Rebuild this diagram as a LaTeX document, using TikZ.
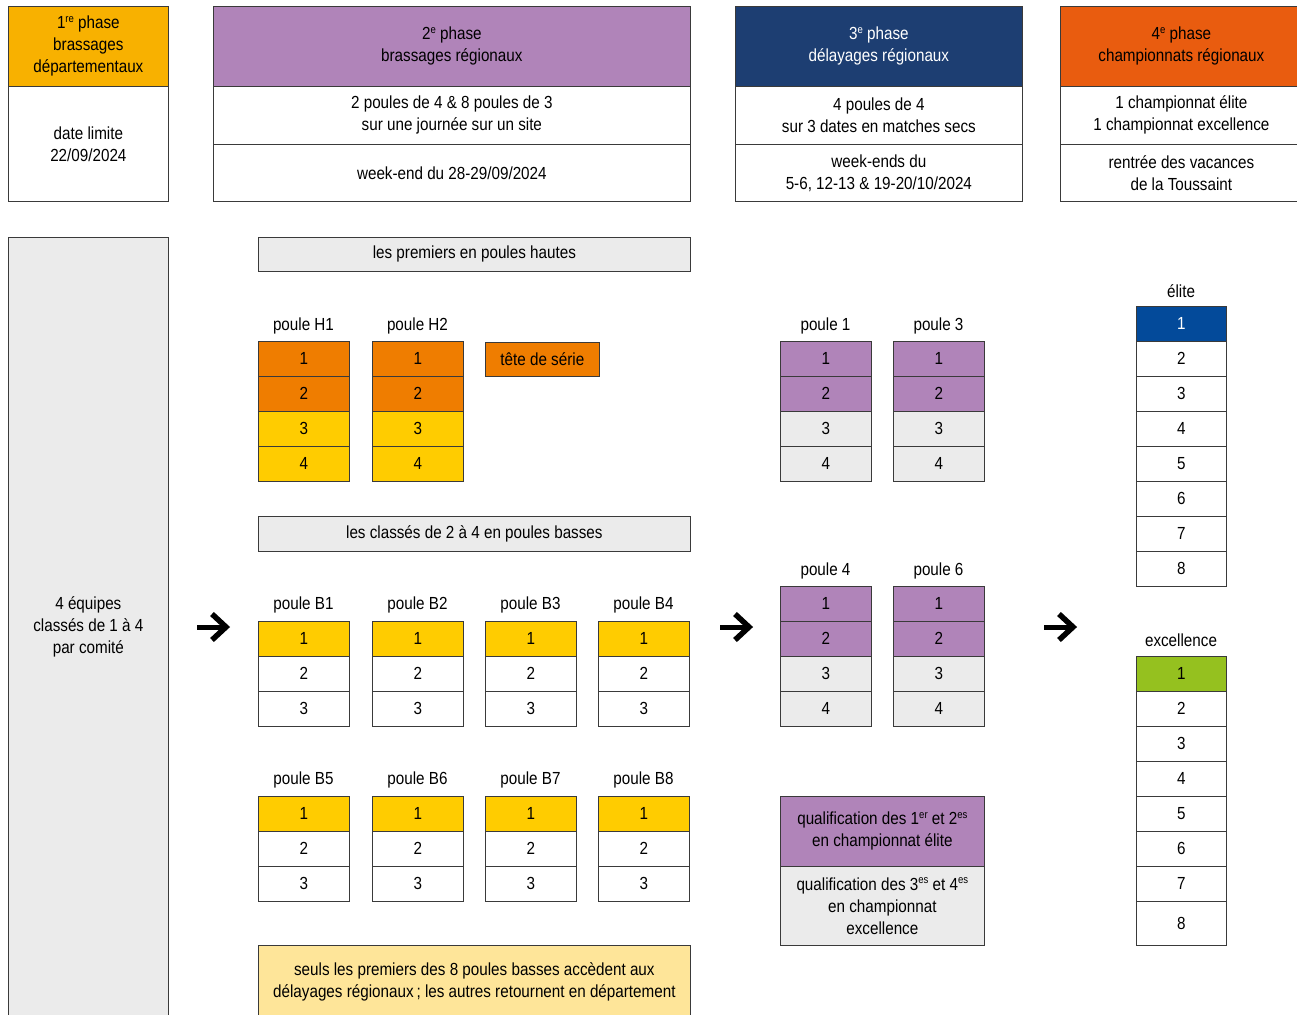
\documentclass[tikz,border=0pt]{standalone}
\usepackage{fontspec}
\setmainfont{Liberation Sans}[FakeStretch=0.87]
\definecolor{phaseA}{HTML}{F8B100}
\definecolor{mauve}{HTML}{B084B9}
\definecolor{navy}{HTML}{1D3E72}
\definecolor{phaseD}{HTML}{E95C0F}
\definecolor{orangecell}{HTML}{EF7D00}
\definecolor{yellowcell}{HTML}{FFCC00}
\definecolor{greycell}{HTML}{EBEBEB}
\definecolor{eliteblue}{HTML}{034A9A}
\definecolor{greencell}{HTML}{95C11F}
\definecolor{notefill}{HTML}{FEE599}
\definecolor{edge}{HTML}{3A3A3A}
\newcommand\supx[1]{\raisebox{0.38em}{\fontsize{11}{11}\selectfont #1}}
\begin{document}
\begin{tikzpicture}[x=1pt,y=-1pt,
  font=\fontsize{17.5}{22}\selectfont,
  box/.style={draw=edge, line width=0.7pt, inner sep=0pt, anchor=north west, align=center},
  cell/.style={box, minimum width=91pt, minimum height=35pt},
  lbl/.style={inner sep=0pt, anchor=center},
  bigarrow/.style={line width=5pt, black}
]
\useasboundingbox (0,0) rectangle (1297,1014);

% ---------- top phase boxes ----------
\node[box, fill=phaseA, minimum width=160pt, minimum height=80pt] (p1h) at (8,6) {1\supx{re} phase\\brassages\\départementaux};
\node[box, fill=white, minimum width=160pt, minimum height=115pt] (p1b) at (8,86) {date limite\\22/09/2024};

\node[box, fill=mauve, minimum width=477pt, minimum height=80pt] (p2h) at (213,6) {2\supx{e} phase\\brassages régionaux};
\node[box, fill=white, minimum width=477pt, minimum height=58pt] (p2a) at (213,86) {2 poules de 4 \& 8 poules de 3\\sur une journée sur un site};
\node[box, fill=white, minimum width=477pt, minimum height=57pt] (p2b) at (213,144) {week-end du 28-29/09/2024};

\node[box, fill=navy, text=white, minimum width=287pt, minimum height=80pt] (p3h) at (735,6) {3\supx{e} phase\\délayages régionaux};
\node[box, fill=white, minimum width=287pt, minimum height=58pt] (p3a) at (735,86) {4 poules de 4\\sur 3 dates en matches secs};
\node[box, fill=white, minimum width=287pt, minimum height=57pt] (p3b) at (735,144) {week-ends du\\5-6, 12-13 \& 19-20/10/2024};

\node[box, fill=phaseD, minimum width=242pt, minimum height=80pt] (p4h) at (1060,6) {4\supx{e} phase\\championnats régionaux};
\node[box, fill=white, minimum width=242pt, minimum height=58pt] (p4a) at (1060,86) {1 championnat élite\\1 championnat excellence};
\node[box, fill=white, minimum width=242pt, minimum height=57pt] (p4b) at (1060,144) {rentrée des vacances\\de la Toussaint};

% ---------- left column ----------
\node[box, fill=greycell, minimum width=160pt, minimum height=780pt] (teams) at (8,237) {4 équipes\\classés de 1 à 4\\par comité};

% ---------- phase 2 : high pools ----------
\node[box, fill=greycell, minimum width=432pt, minimum height=34pt] (banH) at (258,237) {les premiers en poules hautes};
\foreach \px/\nm in {258/H1, 372/H2} {
  \node[lbl] (lab\nm) at (\px+45.5, 326) {poule \nm};
  \node[cell, fill=orangecell] (\nm r1) at (\px,341) {1};
  \node[cell, fill=orangecell] (\nm r2) at (\px,376) {2};
  \node[cell, fill=yellowcell] (\nm r3) at (\px,411) {3};
  \node[cell, fill=yellowcell] (\nm r4) at (\px,446) {4};
}
\node[box, fill=orangecell, minimum width=114pt, minimum height=34pt] (seed) at (485,342) {tête de série};

% ---------- phase 2 : low pools ----------
\node[box, fill=greycell, minimum width=432pt, minimum height=35pt] (banB) at (258,516) {les classés de 2 à 4 en poules basses};
\foreach \px/\nm in {258/B1, 372/B2, 485/B3, 598/B4} {
  \node[lbl] (lab\nm) at (\px+45.5, 605) {poule \nm};
  \node[cell, fill=yellowcell] (\nm r1) at (\px,621) {1};
  \node[cell, fill=white] (\nm r2) at (\px,656) {2};
  \node[cell, fill=white] (\nm r3) at (\px,691) {3};
}
\foreach \px/\nm in {258/B5, 372/B6, 485/B7, 598/B8} {
  \node[lbl] (lab\nm) at (\px+45.5, 780) {poule \nm};
  \node[cell, fill=yellowcell] (\nm r1) at (\px,796) {1};
  \node[cell, fill=white] (\nm r2) at (\px,831) {2};
  \node[cell, fill=white] (\nm r3) at (\px,866) {3};
}
\node[box, fill=notefill, minimum width=432pt, minimum height=74pt] (note) at (258,945) {seuls les premiers des 8 poules basses accèdent aux\\délayages régionaux\,; les autres retournent en département};

% ---------- phase 3 ----------
\foreach \px/\nm/\py in {780/1/341, 893/3/341, 780/4/586, 893/6/586} {
  \node[lbl] (labP\nm) at (\px+45.5, \py-15.5) {poule \nm};
  \node[cell, fill=mauve] (P\nm r1) at (\px,\py) {1};
  \node[cell, fill=mauve] (P\nm r2) at (\px,\py+35) {2};
  \node[cell, fill=greycell] (P\nm r3) at (\px,\py+70) {3};
  \node[cell, fill=greycell] (P\nm r4) at (\px,\py+105) {4};
}
\node[box, fill=mauve, minimum width=204pt, minimum height=70pt] (qualA) at (780,796) {qualification des 1\supx{er} et 2\supx{es}\\en championnat élite};
\node[box, fill=greycell, minimum width=204pt, minimum height=79pt] (qualB) at (780,866) {qualification des 3\supx{es} et 4\supx{es}\\en championnat\\excellence};

% ---------- phase 4 ----------
\node[lbl] (labE) at (1181,291) {élite};
\node[cell, fill=eliteblue, text=white, minimum width=90pt] (E1) at (1136,306) {1};
\foreach \i in {2,...,8} {
  \node[cell, fill=white, minimum width=90pt] (E\i) at (1136,{306+35*(\i-1)}) {\i};
}
\node[lbl] (labX) at (1181,640) {excellence};
\node[cell, fill=greencell, minimum width=90pt] (X1) at (1136,656) {1};
\foreach \i in {2,...,7} {
  \node[cell, fill=white, minimum width=90pt] (X\i) at (1136,{656+35*(\i-1)}) {\i};
}
\node[cell, fill=white, minimum width=90pt, minimum height=44pt] (X8) at (1136,901) {8};

% ---------- arrows ----------
\foreach \ax/\nm in {197/one, 720/two, 1044/three} {
  \coordinate (\nm s) at (\ax,627);
  \coordinate (\nm e) at (\ax+27,627);
  \draw[bigarrow] (\nm s) -- (\nm e);
  \draw[bigarrow, line width=5.5pt, line join=miter, miter limit=10] (\ax+15,614) -- (\ax+29,627) -- (\ax+15,640);
}
\end{tikzpicture}
\end{document}
